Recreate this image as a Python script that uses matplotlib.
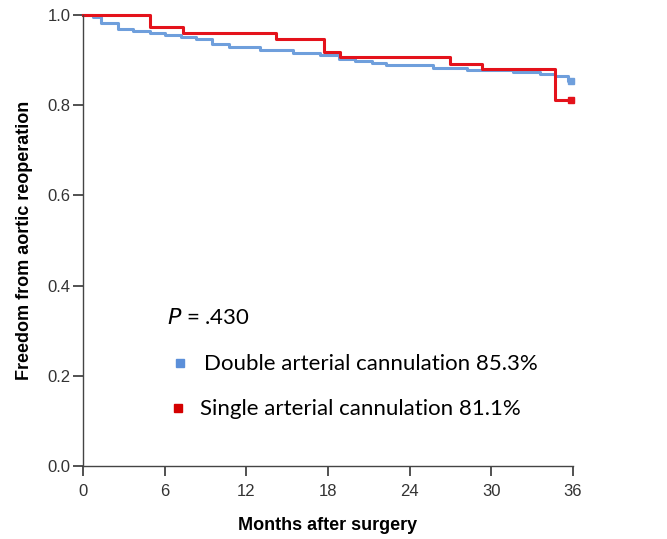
import matplotlib.pyplot as plt
import matplotlib as mpl

mpl.use("Agg")

# Kaplan-Meier steps (months, survival)
double_t = [0, 0.7, 1.3, 2.6, 3.7, 4.9, 6.0, 7.2, 8.3, 9.5, 10.7, 13.0, 15.4,
            17.4, 18.8, 20.0, 21.2, 22.3, 25.7, 28.2, 31.6, 33.6, 34.7, 35.6, 36]
double_s = [1.0, 0.996, 0.982, 0.969, 0.965, 0.960, 0.956, 0.951, 0.947, 0.936,
            0.929, 0.922, 0.916, 0.911, 0.902, 0.898, 0.894, 0.889, 0.882, 0.878,
            0.874, 0.869, 0.865, 0.853, 0.853]

single_t = [0, 4.9, 7.35, 14.2, 17.7, 18.9, 27.0, 29.3, 34.7, 36]
single_s = [1.0, 0.973, 0.960, 0.947, 0.918, 0.907, 0.892, 0.880, 0.811, 0.811]

x_ticks = [0, 6, 12, 18, 24, 30, 36]
y_ticks = [0.0, 0.2, 0.4, 0.6, 0.8, 1.0]

blue = "#6f9fdc"
red = "#e4121b"

fig = plt.figure(figsize=(6.67, 5.39), dpi=100)
ax = fig.add_axes([0.1244, 0.1354, 0.7346, 0.8368])

ax.step(double_t, double_s, where="post", color=blue, lw=2.2, clip_on=False)
ax.step(single_t, single_s, where="post", color=red, lw=2.2, clip_on=False)
ax.plot([35.85], [double_s[-1]], "s", color=blue, ms=4, clip_on=False)
ax.plot([35.85], [single_s[-1]], "s", color=red, ms=4, clip_on=False)

ax.set_xlim(0, 36)
ax.set_ylim(0, 1.0)
ax.set_xticks(x_ticks)
ax.set_yticks(y_ticks)
ax.set_yticklabels([f"{v:.1f}" for v in y_ticks])
for side in ["top", "right"]:
    ax.spines[side].set_visible(False)
for side in ["left", "bottom"]:
    ax.spines[side].set_color("#444444")
    ax.spines[side].set_linewidth(1.0)
ax.tick_params(direction="out", length=7, width=1.2, color="#333333",
               labelsize=12, labelcolor="#333333")
ax.tick_params(axis="x", pad=6)
ax.tick_params(axis="y", pad=2)
for lab in ax.get_xticklabels() + ax.get_yticklabels():
    lab.set_family("Liberation Sans")

ax.set_xlabel("Months after surgery", family="Liberation Sans",
              fontweight="bold", fontsize=13, labelpad=13)
ax.set_ylabel("Freedom from aortic reoperation", family="Liberation Sans",
              fontweight="bold", fontsize=13, labelpad=10)

ax.text(6.2, 0.328, "$P$ = .430", fontsize=16, family="Lato",
        va="center", ha="left")
ax.plot([7.1], [0.228], "s", color="#5b8fd9", ms=6)
ax.text(8.9, 0.226, "Double arterial cannulation 85.3%", fontsize=16,
        family="Lato", va="center", ha="left")
ax.plot([7.0], [0.129], "s", color="#d40000", ms=6)
ax.text(8.6, 0.126, "Single arterial cannulation 81.1%", fontsize=16,
        family="Lato", va="center", ha="left")

plt.savefig("out.png", dpi=100)
